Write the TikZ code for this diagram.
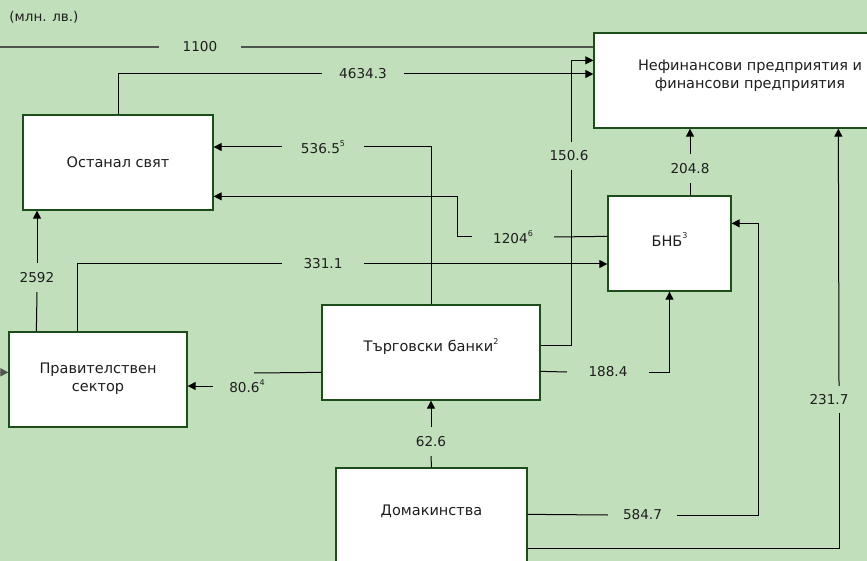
\documentclass[tikz,border=0pt]{standalone}
\usepackage{fontspec}
\setmainfont{DejaVu Sans}
\usetikzlibrary{arrows.meta,calc}
\definecolor{bgc}{RGB}{194,223,188}
\definecolor{boxc}{RGB}{28,78,28}
\definecolor{gline}{RGB}{80,84,80}
\definecolor{txtc}{RGB}{30,30,30}
\newcommand\mysup[1]{\raisebox{0.5em}{\fontsize{8}{8}\selectfont #1}}
\newcommand\lift[2]{\raisebox{#1}[\height][\depth]{#2}}
\begin{document}
\begin{tikzpicture}[x=1pt,y=-1pt,
  box/.style={draw=boxc,line width=1.3pt,fill=white,inner sep=2pt,align=center,
    font=\fontsize{14.5}{18}\selectfont,text=txtc},
  lbl/.style={inner sep=0pt,font=\fontsize{13.6}{15}\selectfont,text=txtc,minimum width=10pt},
  conn/.style={draw=black,line width=1pt},
  arr/.style={-{Triangle[length=8pt,width=8pt]}},
  gconn/.style={draw=gline,line width=1.5pt}]
\useasboundingbox (0,0) rectangle (867,561);
\clip (0,0) rectangle (867,561);
\fill[bgc] (0,0) rectangle (867,561);

% boxes
\node[box,minimum width=312,minimum height=95] (nef) at (750,80.5) {\lift{5pt}{\begin{tabular}{@{}c@{}}Нефинансови предприятия и\\финансови предприятия\end{tabular}}};
\node[box,minimum width=190,minimum height=95] (ost) at (118,162.5) {Останал свят};
\node[box,minimum width=123,minimum height=95] (bnb) at (669.5,243.5) {\lift{4pt}{БНБ\mysup{3}}};
\node[box,minimum width=178,minimum height=95] (prav) at (98,379.5) {\lift{1pt}{\begin{tabular}{@{}c@{}}Правителствен\\сектор\end{tabular}}};
\node[box,minimum width=218,minimum height=95] (trg) at (431,352.5) {\lift{6pt}{Търговски банки\mysup{2}}};
\node[box,minimum width=191,minimum height=95] (dom) at (431.5,515.5) {\lift{4pt}{Домакинства}};

\node[lbl,font=\fontsize{13.5}{15}\selectfont] (unit) at (44,17) {(млн. лв.)};

% labels
\node[lbl,minimum width=82] (l1100) at (200,47) {1100};
\node[lbl,minimum width=82] (l4634) at (363,74) {4634.3};
\node[lbl,minimum width=82] (l536) at (323,147) {536.5\mysup{5}};
\node[lbl,minimum width=82] (l1204) at (513,237) {1204\mysup{6}};
\node[lbl,minimum width=82] (l331) at (323,264) {331.1};
\node[lbl,minimum height=28] (l150) at (569,156) {150.6};
\node[lbl,minimum height=29] (l2048) at (690,168.5) {204.8};
\node[lbl,minimum height=29] (l2592) at (37,277.5) {2592};
\node[lbl,minimum height=29] (l626) at (431,441.5) {62.6};
\node[lbl,minimum height=27] (l2317) at (829,399.5) {231.7};
\node[lbl,minimum width=69] (l5847) at (642.5,515) {584.7};
\node[lbl,minimum width=82] (l1884) at (608,372) {188.4};
\node[lbl,minimum width=68] (l806) at (247,386) {80.6\mysup{4}};
\coordinate (c806) at (254,373);

% connectors
\draw[gconn] (nef.west |- l1100) -- (l1100.east);
\draw[gconn,arr] (l1100.west) -- ++(-215,0) |- ($(prav.north west)+(0,41)$);

\draw[conn] (ost.north) |- (l4634.west);
\draw[conn,arr] (l4634.east) -- (nef.west |- l4634);

\draw[conn] ($(trg.north east)+(0,41)$) -| ($(l150.south)+(2,0)$);
\draw[conn,arr] ($(l150.north)+(2,0)$) |- ($(nef.north west)+(0,28)$);

\draw[conn] (trg.north) |- (l536.east);
\draw[conn,arr] (l536.west) -- (ost.east |- l536);

\draw[conn] ($(bnb.north west)+(0,41)$) -- (l1204.east);
\draw[conn,arr] (l1204.west) -- ++(-14,0) |- ($(ost.north east)+(0,82)$);

\draw[conn] ($(prav.north west)+(69,0)$) |- (l331.west);
\draw[conn,arr] (l331.east) -- (bnb.west |- l331);

\draw[conn] ($(prav.north west)+(28,0)$) -- (l2592.south);
\draw[conn,arr] (l2592.north) -- (ost.south -| l2592);

\draw[conn] ($(trg.north west)+(0,68)$) -- (c806);
\draw[conn,arr] (l806.west) -- (prav.east |- l806);

\draw[conn] ($(trg.north east)+(0,67)$) -- (l1884.west);
\draw[conn,arr] (l1884.east) -| (bnb.south);

\draw[conn] (bnb.north -| l2048) -- (l2048.south);
\draw[conn,arr] (l2048.north) -- (nef.south -| l2048);

\draw[conn] (dom.north) -- (l626.south);
\draw[conn,arr] (l626.north) -- (trg.south);

\draw[conn] ($(dom.north east)+(0,47)$) -- (l5847.west);
\draw[conn,arr] (l5847.east) -- ++(81,0) |- ($(bnb.north east)+(0,28)$);

\draw[conn] ($(dom.north east)+(0,81)$) -| ($(l2317.south)+(10,0)$);
\draw[conn,arr] ($(l2317.north)+(10,0)$) -- ($(nef.south west)+(245,0)$);
\end{tikzpicture}
\end{document}
